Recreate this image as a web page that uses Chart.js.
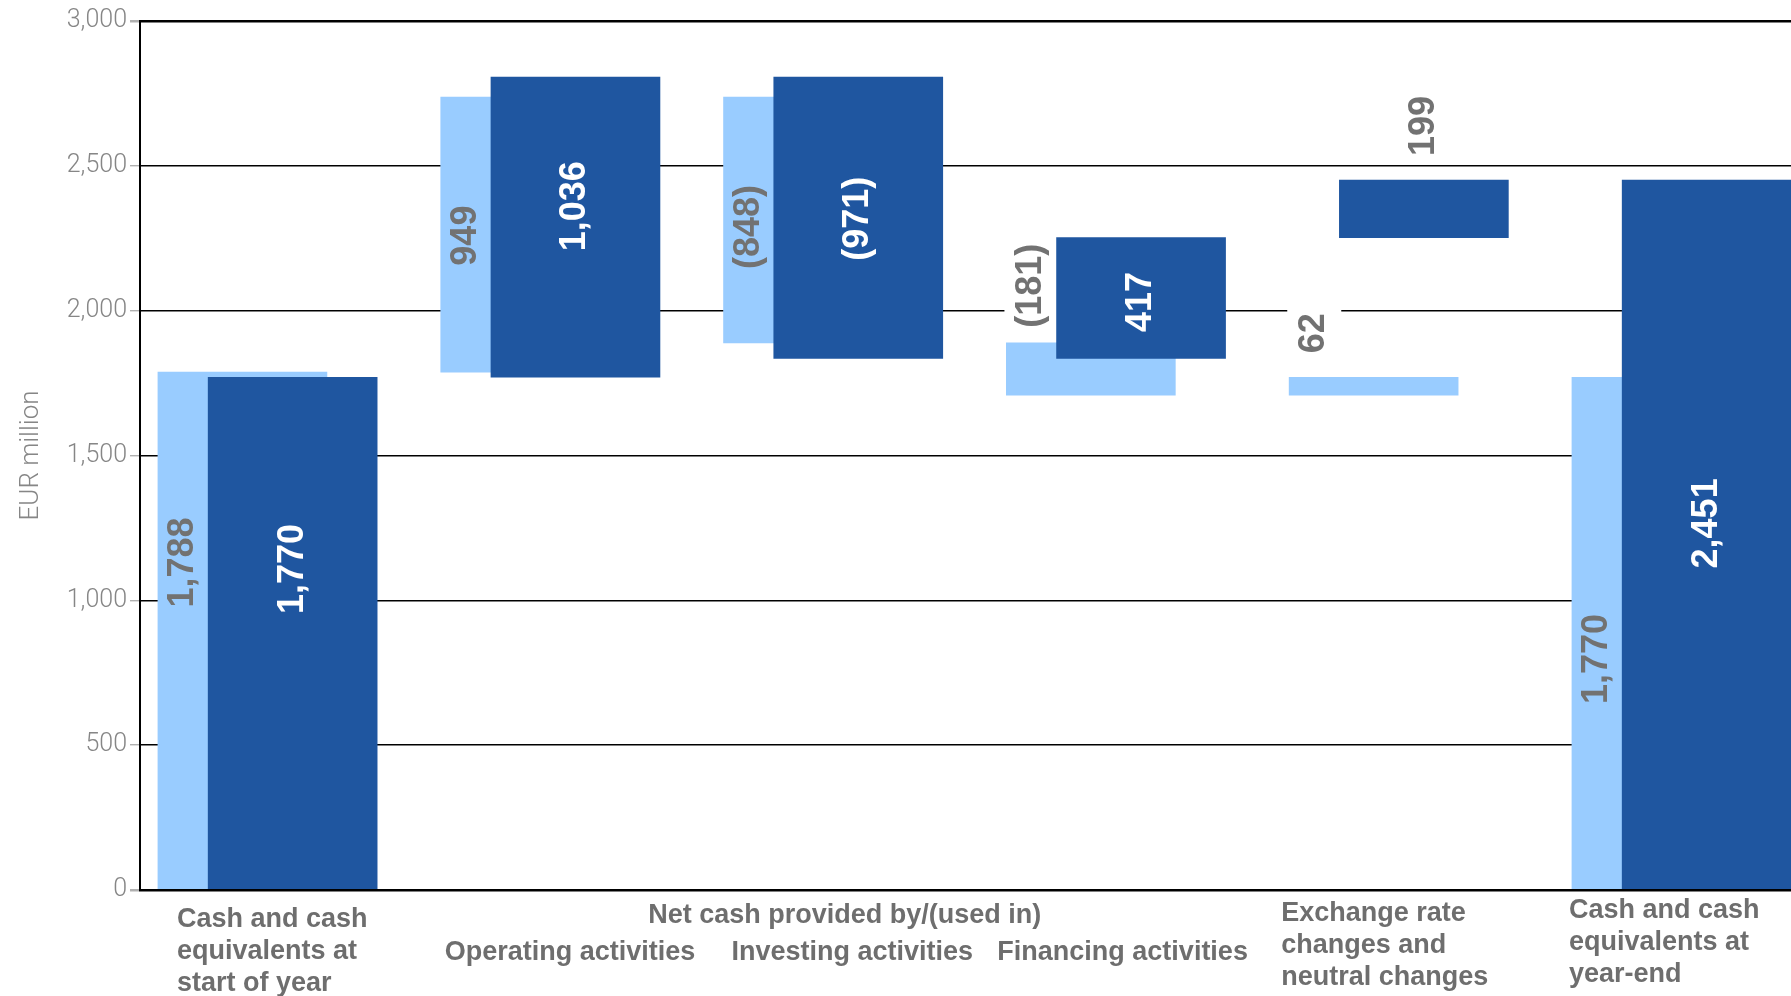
<!DOCTYPE html>
<html>
<head>
<meta charset="utf-8">
<title>Cash and cash equivalents</title>
<script src="https://cdn.jsdelivr.net/npm/chart.js@4.4.1/dist/chart.umd.min.js"></script>
<style>
  html, body { margin: 0; padding: 0; background: #fff; overflow: hidden; }
  #wrap { width: 1791px; height: 996px; }
</style>
</head>
<body>
<div id="wrap"><canvas id="cashChart" width="1791" height="996"></canvas></div>
<script>
// EUR million - first and last entries are balances, the others are movements
const categories = [
    ['Cash and cash', 'equivalents at', 'start of year'],
    ['Operating activities'],
    ['Investing activities'],
    ['Financing activities'],
    ['Exchange rate', 'changes and', 'neutral changes'],
    ['Cash and cash', 'equivalents at', 'year-end']
];
const groupTitle = 'Net cash provided by/(used in)';
const priorYear = [1788, 949, -848, -181, 62, 1770];
const currentYear = [1770, 1036, -971, 417, 199, 2451];
const yTicks = [0, 500, 1000, 1500, 2000, 2500, 3000];

const LIGHT = '#99ccff';
const DARK = '#1f56a0';
const LABEL_GREY = '#727272';
const CAT_GREY = '#6e6e6e';
const SHIFT = 0.0888;   // half the offset between the two bars of a pair (x units)
const LABEL_FONT = 'bold 36px "Liberation Sans", Arial, sans-serif';

// vertical tweaks (px) for the value labels, prior / current
const labelNudge = {
    prior: [-69, 0, 6, 0, -9, 25],
    current: [-65, -22, 0, 3, -9, -12]
};

function fmt(v) {
    const s = Math.abs(v).toLocaleString('en-US');
    return v < 0 ? '(' + s + ')' : s;
}

// floating [from, to] ranges on the running total
function toRanges(values) {
    let running = 0;
    return values.map((v, i) => {
        if (i === 0 || i === values.length - 1) {
            running = v;
            return [0, v];
        }
        const from = running;
        running += v;
        return [from, running];
    });
}

const priorRanges = toRanges(priorYear);
const currentRanges = toRanges(currentYear);

// where each value label goes: inside the bar, or above it when the bar is too short
function labelLayout(chart) {
    const ctx = chart.ctx;
    const xs = chart.scales.x;
    const shiftPx = xs.getPixelForValue(SHIFT) - xs.getPixelForValue(-SHIFT);
    const out = [];
    ctx.save();
    ctx.font = LABEL_FONT;
    chart.data.datasets.forEach((ds, di) => {
        const meta = chart.getDatasetMeta(di);
        const dark = ds.label === 'current';
        const src = dark ? currentYear : priorYear;
        meta.data.forEach((bar, i) => {
            const p = bar.getProps(['x', 'y', 'base', 'width'], true);
            const top = Math.min(p.y, p.base);
            const bottom = Math.max(p.y, p.base);
            const text = fmt(src[i]);
            const tw = ctx.measureText(text).width;
            const lx = dark ? p.x : p.x - p.width / 2 + shiftPx / 2;
            const inside = tw + 20 < bottom - top;
            const cy = (inside ? (top + bottom) / 2 : top - 16 - tw / 2) + labelNudge[ds.label][i];
            out.push({ text, tw, lx, cy, inside, color: inside && dark ? '#ffffff' : LABEL_GREY });
        });
    });
    ctx.restore();
    return out;
}

const barLabels = {
    id: 'barLabels',
    // white patches break the grid lines behind labels that sit outside their bar
    beforeDatasetsDraw(chart) {
        const ctx = chart.ctx;
        ctx.save();
        ctx.fillStyle = '#ffffff';
        labelLayout(chart).filter(l => !l.inside).forEach(l => {
            ctx.fillRect(l.lx - 27, l.cy - l.tw / 2 - 8, 54, l.tw + 16);
        });
        ctx.restore();
    },
    afterDatasetsDraw(chart) {
        const ctx = chart.ctx;
        ctx.save();
        ctx.font = LABEL_FONT;
        ctx.textAlign = 'center';
        ctx.textBaseline = 'middle';
        labelLayout(chart).forEach(l => {
            ctx.save();
            ctx.translate(l.lx, l.cy + 1);
            ctx.rotate(-Math.PI / 2);
            ctx.fillStyle = l.color;
            ctx.fillText(l.text, 0, 0);
            ctx.restore();
        });
        ctx.restore();
    }
};

// Category captions under the plot
const categoryLabels = {
    id: 'categoryLabels',
    afterDraw(chart) {
        const ctx = chart.ctx;
        const xs = chart.scales.x;
        const meta = chart.getDatasetMeta(1);
        const left = i => xs.getPixelForValue(i - SHIFT) - meta.data[i].width / 2;
        const lh = 32;
        ctx.save();
        ctx.font = 'bold 27px "Liberation Sans", Arial, sans-serif';
        ctx.fillStyle = CAT_GREY;
        ctx.textBaseline = 'middle';
        ctx.textAlign = 'left';
        const blocks = [
            { i: 0, dx: 19, y: 920 },
            { i: 1, dx: 4, y: 953 },
            { i: 2, dx: 8, y: 953 },
            { i: 3, dx: -9, y: 953 },
            { i: 4, dx: -8, y: 914 },
            { i: 5, dx: -3, y: 911 }
        ];
        blocks.forEach(b => {
            categories[b.i].forEach((line, k) => {
                ctx.fillText(line, left(b.i) + b.dx, b.y + k * lh);
            });
        });
        // heading over the three cash-flow categories
        const x0 = left(1) + 4;
        const x1 = left(3) - 12 + ctx.measureText(categories[3][0]).width;
        ctx.textAlign = 'center';
        ctx.fillText(groupTitle, (x0 + x1) / 2, 916);
        ctx.restore();
    }
};

const ctx = document.getElementById('cashChart').getContext('2d');
new Chart(ctx, {
    type: 'bar',
    data: {
        datasets: [
            {
                label: 'prior',
                data: priorRanges.map((r, i) => ({ x: i - SHIFT, y: r })),
                backgroundColor: LIGHT,
                barThickness: 169,
                grouped: false,
                order: 1
            },
            {
                label: 'current',
                data: currentRanges.map((r, i) => ({ x: i + SHIFT, y: r })),
                backgroundColor: DARK,
                barThickness: 169,
                grouped: false,
                order: 0
            }
        ]
    },
    options: {
        responsive: false,
        animation: false,
        layout: { padding: { top: 21, right: 0, bottom: 106, left: 0 } },
        plugins: {
            legend: { display: false },
            tooltip: { enabled: false }
        },
        scales: {
            x: {
                type: 'linear',
                offset: false,
                min: -0.451,
                max: 5.387,
                display: false
            },
            y: {
                min: 0,
                max: 3000,
                afterBuildTicks: scale => {
                    scale.ticks = yTicks.map(v => ({ value: v }));
                },
                afterFit: scale => { scale.width = 140; },
                border: { display: true, color: '#000', width: 2 },
                grid: {
                    color: '#000',
                    lineWidth: c => (c.tick && (c.tick.value === 0 || c.tick.value === 3000)) ? 2.5 : 1.4,
                    tickColor: '#b0b0b0',
                    tickLength: 10
                },
                ticks: {
                    color: '#868686',
                    padding: 3,
                    font: { family: 'Roboto', size: 25, weight: '300' },
                    callback: v => v.toLocaleString('en-US')
                },
                title: {
                    display: true,
                    text: 'EUR million',
                    color: '#868686',
                    padding: { top: 16, bottom: 0 },
                    font: { family: 'Roboto', size: 26, weight: '300' }
                }
            }
        }
    },
    plugins: [barLabels, categoryLabels]
});
</script>
</body>
</html>
